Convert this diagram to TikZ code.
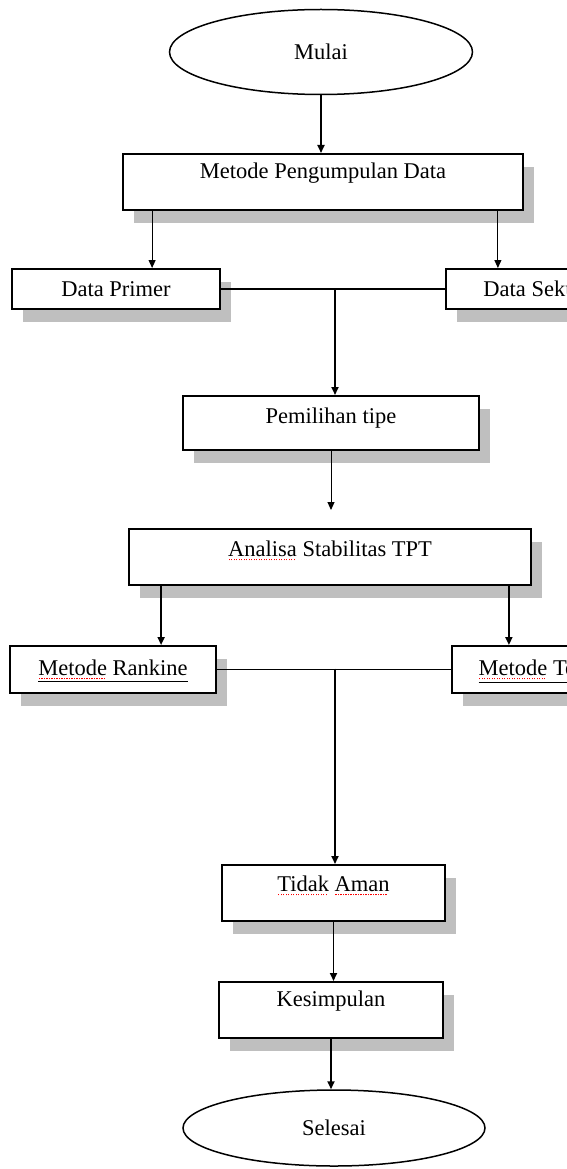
\documentclass[tikz,border=0pt]{standalone}
\usepackage{fontspec}
\setmainfont{Liberation Serif}
\usetikzlibrary{arrows.meta,shapes.geometric,shadows}
\newcommand\redsq[1]{\setbox0\hbox{#1}\rlap{\raisebox{-3.5pt}{\color{red}\leaders\hbox to 2.5pt{\hss\rule{1.2pt}{1.2pt}\hss}\hskip\wd0}}#1}
\tikzset{
  boxsh/.style={draw, line width=1.8pt, fill=white, inner sep=0pt, anchor=north,
    drop shadow={shadow xshift=11pt, shadow yshift=-13pt, fill=black!25, opacity=1},
    font=\fontsize{22.5}{27}\selectfont},
  ovalbox/.style={draw, ellipse, line width=1.5pt, fill=white, inner sep=0pt,
    font=\fontsize{22.5}{27}\selectfont},
  thickcon/.style={line width=1.8pt},
  thincon/.style={line width=1pt},
  tip/.style={-{Triangle[length=8pt,width=7pt]}}
}
\begin{document}
\begin{tikzpicture}[x=1pt,y=-1pt]
\useasboundingbox (0,0) rectangle (567,1169);
\fill[white] (0,0) rectangle (567,1169);
\clip (0,0) rectangle (567,1169);

\node[ovalbox, minimum width=303pt, minimum height=85pt] (mulai) at (321,52) {Mulai};

\node[boxsh, minimum width=400pt, text height=25pt, text depth=31pt] (mpd) at (323,153) {Metode Pengumpulan Data};

\node[boxsh, minimum width=208pt, text height=28pt, text depth=12pt] (dp) at (116,268) {Data Primer};
\node[boxsh, minimum width=208pt, text height=28pt, text depth=12pt] (ds) at (550,268) {Data Sekunder};

\node[boxsh, minimum width=296pt, text height=28pt, text depth=26pt] (pt) at (331,395) {Pemilihan tipe};

\node[boxsh, minimum width=402pt, text height=28pt, text depth=28pt] (an) at (330,528) {\redsq{Analisa} Stabilitas TPT};

\node[boxsh, minimum width=206pt, text height=30pt, text depth=17pt] (rk) at (113,645) {\underline{\redsq{Metode} Rankine}};
\node[boxsh, minimum width=206pt, text height=30pt, text depth=17pt] (tz) at (555,645) {\underline{\redsq{Metode} Terzaghi}};

\node[boxsh, minimum width=223pt, text height=27pt, text depth=29pt] (ta) at (333.5,864) {\redsq{Tidak} \redsq{Aman}};

\node[boxsh, minimum width=224pt, text height=25pt, text depth=31pt] (ks) at (331,981) {Kesimpulan};

\node[ovalbox, minimum width=302pt, minimum height=76pt] (sl) at (334,1128) {Selesai};

% connectors
\draw[thickcon,tip] (mulai.south) -- (mulai.south |- mpd.north);
\draw[thincon,tip] ([xshift=30pt]mpd.south west) -- ([xshift=30pt]mpd.south west |- dp.north);
\draw[thincon,tip] ([xshift=-26pt]mpd.south east) -- ([xshift=-26pt]mpd.south east |- ds.north);
\draw[thickcon] (dp.east) -- (ds.west);
\coordinate (j1) at (335,288);
\draw[thickcon,tip] (j1) -- (j1 |- pt.north);
\coordinate (pe) at (331,510);
\draw[thincon,tip] (pt.south) -- (pe);
\draw[thickcon,tip] ([xshift=33pt]an.south west) -- ([xshift=33pt]an.south west |- rk.north);
\draw[thickcon,tip] ([xshift=-23pt]an.south east) -- ([xshift=-23pt]an.south east |- tz.north);
\draw[thincon] (rk.east) -- (tz.west);
\coordinate (j2) at (335,668.5);
\draw[thickcon,tip] (j2) -- (j2 |- ta.north);
\draw[thickcon,tip] (ta.south) -- (ta.south |- ks.north);
\draw[thickcon,tip] (ks.south) -- (ks.south |- sl.north);
\end{tikzpicture}
\end{document}
